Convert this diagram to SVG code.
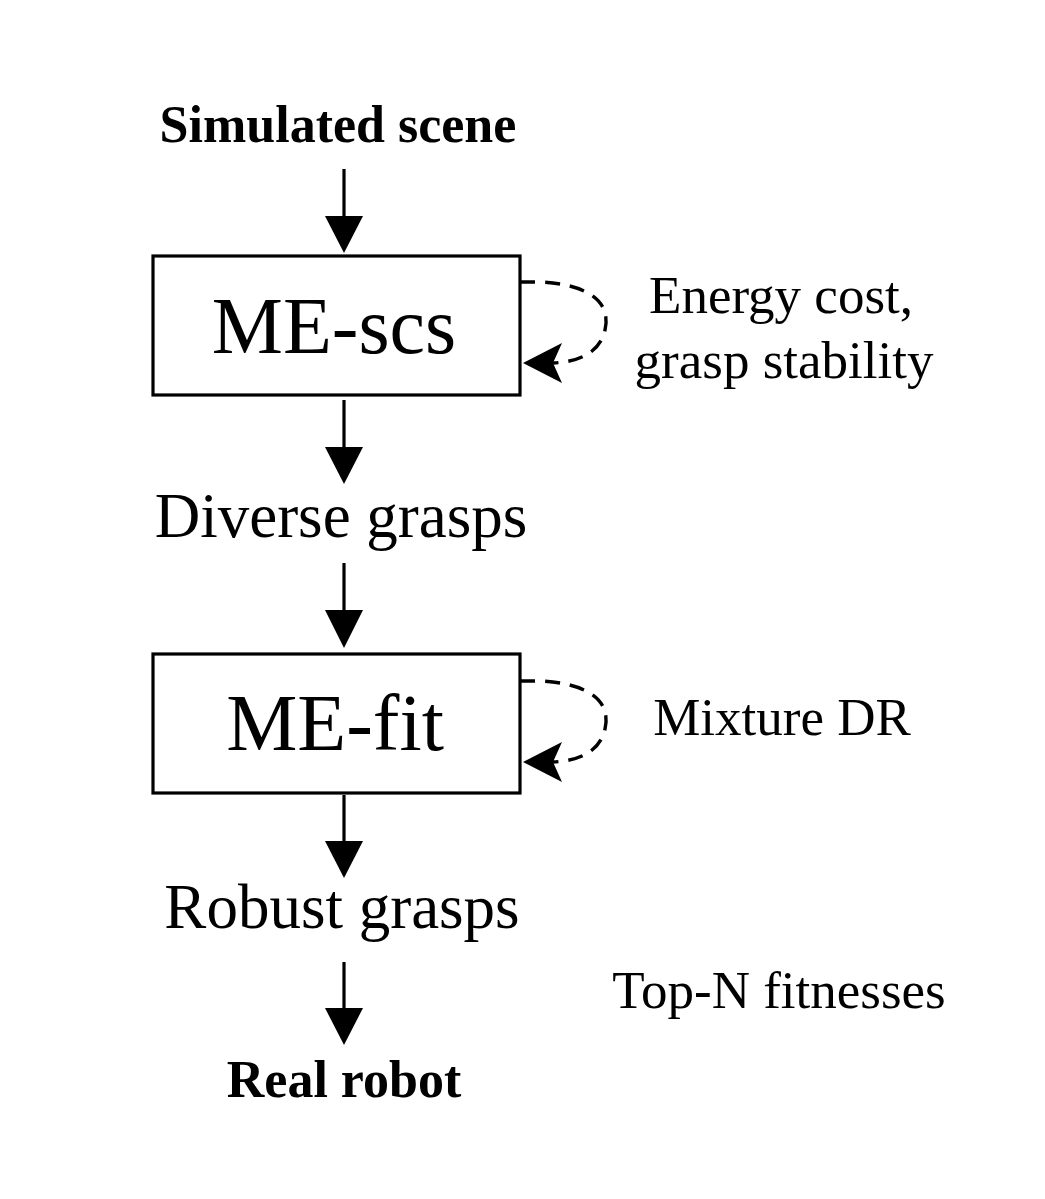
<svg xmlns="http://www.w3.org/2000/svg" width="1045" height="1199" viewBox="0 0 1045 1199">
<style>
text{font-family:"Liberation Serif","Times New Roman",serif;fill:#000}
.b{font-weight:bold;font-size:52px}
.m{font-size:63px}
.s{font-size:53px}
.box{fill:#fff;stroke:#000;stroke-width:3.2}
.shaft{stroke:#000;stroke-width:3.2;fill:none}
.dash{stroke:#000;stroke-width:3.4;fill:none;stroke-dasharray:15 10}
</style>
<rect width="1045" height="1199" fill="#fff"/>
<g id="connectors">
  <line class="shaft" x1="344" y1="169" x2="344" y2="220"/>
  <polygon points="325,216 363,216 344,253"/>
  <line class="shaft" x1="344" y1="400" x2="344" y2="450"/>
  <polygon points="325,447 363,447 344,484"/>
  <line class="shaft" x1="344" y1="563" x2="344" y2="614"/>
  <polygon points="325,610 363,610 344,648"/>
  <line class="shaft" x1="344" y1="795" x2="344" y2="845"/>
  <polygon points="325,841 363,841 344,878"/>
  <line class="shaft" x1="344" y1="962" x2="344" y2="1012"/>
  <polygon points="325,1008 363,1008 344,1045"/>
  <path class="dash" d="M520,282 L540,282 C585,284 612,300 605,330 C600,352 580,362 553,363"/>
  <polygon points="523,363 562,343 553,363 562,383"/>
  <path class="dash" d="M520,681 L540,681 C585,683 612,699 605,729 C600,751 580,761 553,762"/>
  <polygon points="523,762 562,742 553,762 562,782"/>
</g>
<g id="simulated-scene"><text class="b" x="338" y="142" text-anchor="middle">Simulated scene</text></g>
<g id="me-scs">
  <rect class="box" x="153" y="256" width="367" height="139"/>
  <text x="334" y="353" font-size="80" text-anchor="middle">ME-scs</text>
</g>
<g id="energy-label">
  <text class="s" x="781" y="313" text-anchor="middle">Energy cost,</text>
  <text class="s" x="784" y="378" text-anchor="middle">grasp stability</text>
</g>
<g id="diverse-grasps"><text class="m" x="341" y="537" text-anchor="middle">Diverse grasps</text></g>
<g id="me-fit">
  <rect class="box" x="153" y="654" width="367" height="139"/>
  <text x="335" y="750" font-size="80" text-anchor="middle">ME-fit</text>
</g>
<g id="mixture-label"><text class="s" x="782" y="735" text-anchor="middle">Mixture DR</text></g>
<g id="robust-grasps"><text class="m" x="342" y="928" text-anchor="middle">Robust grasps</text></g>
<g id="topn-label"><text class="s" x="779" y="1008" text-anchor="middle">Top-N fitnesses</text></g>
<g id="real-robot"><text class="b" x="344" y="1097" text-anchor="middle">Real robot</text></g>
</svg>
